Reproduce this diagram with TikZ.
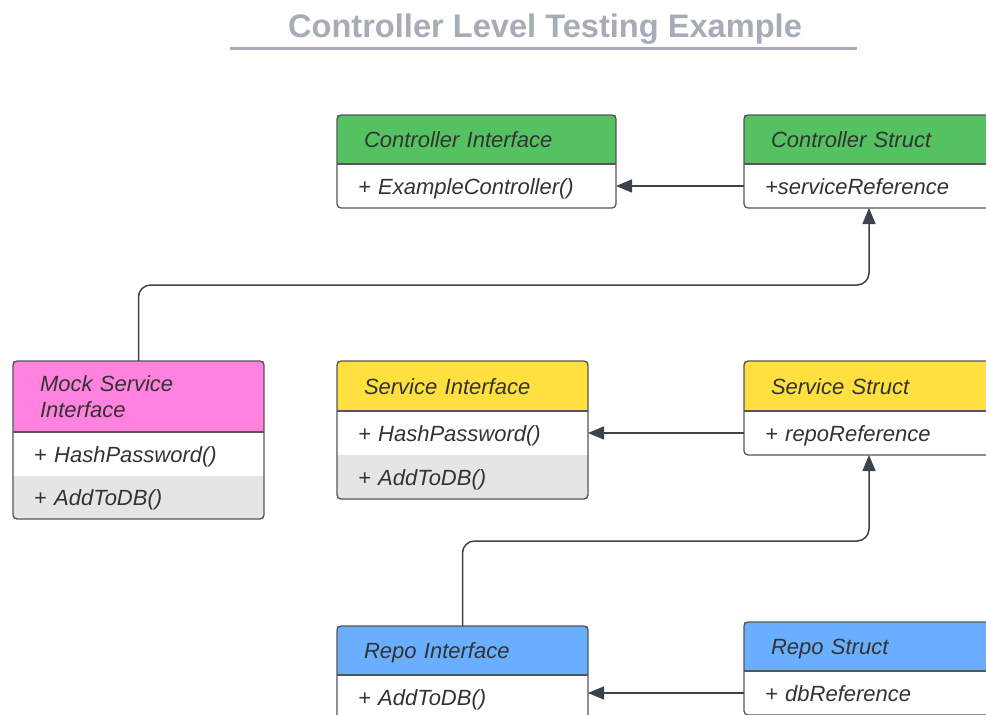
\documentclass[tikz,border=0pt]{standalone}
\usepackage{fontspec}
\setmainfont{Liberation Sans}
\usetikzlibrary{positioning, arrows.meta}

\definecolor{titlegray}{HTML}{A6ADB8}
\definecolor{ctrlgreen}{HTML}{54C261}
\definecolor{mockpink}{HTML}{FF82DF}
\definecolor{svcyellow}{HTML}{FFE03F}
\definecolor{repoblue}{HTML}{6AAEFF}
\definecolor{rowgray}{HTML}{E5E5E5}
\definecolor{txtdark}{HTML}{333333}
\definecolor{edge}{HTML}{555555}
\definecolor{linkdark}{HTML}{3B424C}

\begin{document}
\begin{tikzpicture}[x=1pt, y=-1pt,
    every node/.style={outer sep=0pt, inner ysep=0pt, align=left, text=txtdark,
        font=\fontsize{22}{26}\selectfont\itshape},
    head/.style={rectangle, anchor=north west, minimum height=49pt, inner xsep=27pt,
        text width=#1, text height=16pt, text depth=0pt},
    row/.style={rectangle, minimum height=44pt, inner xsep=21pt, text width=#1,
        text height=16pt, text depth=0pt, fill=white},
    altrow/.style={row=#1, fill=rowgray},
    frame/.style={draw=edge, line width=1.3pt, rounded corners=4pt},
    divider/.style={draw=edge, line width=1.3pt},
    link/.style={draw=linkdark, line width=1.5pt, rounded corners=12pt,
        -{Triangle[length=16pt, width=13pt]}}
]
\clip (0,0) rectangle (986,715);

% Title
\node[font=\fontsize{32.6}{36}\selectfont\bfseries, text=titlegray, anchor=base] (title) at (545,37) {Controller Level Testing Example};
\draw[titlegray, line width=3pt] (230,48) -- (857,48);

% Controller layer
\node[head=225pt, fill=ctrlgreen] (ci) at (337,115) {Controller Interface};
\node[row=237pt, below=0pt of ci] (ci1) {+ ExampleController()};
\node[head=196pt, fill=ctrlgreen] (cs) at (744,115) {Controller Struct};
\node[row=208pt, below=0pt of cs] (cs1) {+serviceReference};

% Service layer
\node[head=197pt, fill=mockpink, minimum height=71pt, text depth=26pt] (ms) at (13,361) {Mock Service\\Interface};
\node[row=209pt, below=0pt of ms] (ms1) {+ HashPassword()};
\node[altrow=209pt, below=0pt of ms1, minimum height=43pt] (ms2) {+ AddToDB()};
\node[head=197pt, fill=svcyellow, minimum height=50pt] (si) at (337,361) {Service Interface};
\node[row=209pt, below=0pt of si] (si1) {+ HashPassword()};
\node[altrow=209pt, below=0pt of si1] (si2) {+ AddToDB()};
\node[head=196pt, fill=svcyellow, minimum height=50pt] (ss) at (744,361) {Service Struct};
\node[row=208pt, below=0pt of ss] (ss1) {+ repoReference};

% Repo layer
\node[head=197pt, fill=repoblue] (ri) at (337,626) {Repo Interface};
\node[row=209pt, below=0pt of ri] (ri1) {+ AddToDB()};
\node[head=196pt, fill=repoblue] (rs) at (744,622) {Repo Struct};
\node[row=208pt, below=0pt of rs] (rs1) {+ dbReference};

% Class outlines
\foreach \a/\b in {ci/ci1, cs/cs1, ms/ms2, si/si2, ss/ss1, ri/ri1, rs/rs1} {
    \draw[frame] (\a.north west) rectangle (\b.south east);
    \draw[divider] (\a.south west) -- (\a.south east);
}

% Connectors
\draw[link] (cs1.west) -- (ci1.east);
\draw[link] (ss1.west) -- (si1.east);
\draw[link] (rs1.west) -- (rs1.west -| ri1.east);
\draw[link] (ms.north) -- ++(0,-76) -| (cs1.south);
\draw[link] (ri.north) -- ++(0,-85) -| (ss1.south);

\end{tikzpicture}
\end{document}
